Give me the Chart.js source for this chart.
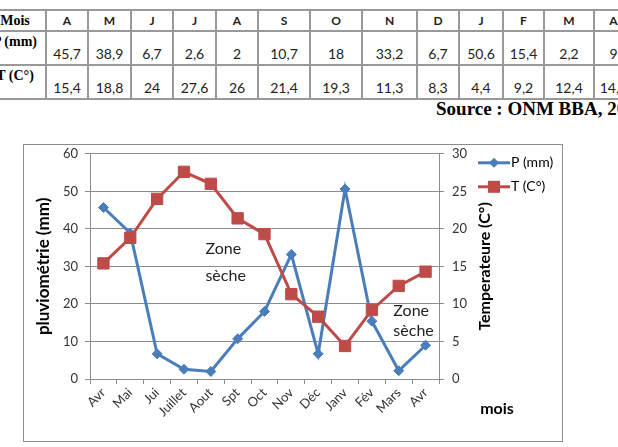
<!DOCTYPE html>
<html>
<head>
<meta charset="utf-8">
<script src="https://cdn.jsdelivr.net/npm/chart.js@4.4.0/dist/chart.umd.min.js"></script>
<style>
  html, body { margin: 0; padding: 0; background: #fff; }
  body { width: 618px; height: 447px; overflow: hidden; position: relative; font-family: Lato, 'Open Sans', sans-serif; }
  #tbl { position: absolute; left: -17px; top: 9px; border-collapse: collapse; table-layout: fixed; width: 649px; }
  #tbl td { border: 2px solid #999; padding: 0; text-align: center; color: #222; font-size: 14px; line-height: 16px; }
  #tbl tr.head { height: 21px; }
  #tbl tr.val { height: 34px; }
  #tbl tr.head td { vertical-align: bottom; font-weight: bold; font-size: 12px; padding-bottom: 1px; }
  #tbl tr.val td { vertical-align: bottom; padding-bottom: 2px; }
  #tbl tr td.lab { font-family: 'Liberation Serif', serif; font-weight: bold; font-size: 14px; color: #000; vertical-align: top; padding-top: 2px; padding-bottom: 0; }
  #tbl tr.head td.lab { vertical-align: middle; padding: 0; }
  #source { position: absolute; left: 436px; top: 98px; white-space: nowrap; font-family: 'Liberation Serif', serif; font-weight: bold; font-size: 19px; color: #000; }
  #box { position: absolute; left: 23px; top: 144px; width: 538px; height: 296px; border: 1px solid #8c8c8c; }
  #box canvas { position: absolute; left: 0; top: -7px; }
</style>
</head>
<body>
<table id="tbl"></table>
<div id="source">Source : ONM BBA, 2017</div>
<div id="box"><canvas id="climChart" width="538" height="304"></canvas></div>
<script>
// months on the chart axis and short ones for the table
const months = ['Avr', 'Mai', 'Jui', 'Juillet', 'Aout', 'Spt', 'Oct', 'Nov', 'Déc', 'Janv', 'Fév', 'Mars', 'Avr'];
const tableMonths = ['A', 'M', 'J', 'J', 'A', 'S', 'O', 'N', 'D', 'J', 'F', 'M', 'A'];
const precip = [45.7, 38.9, 6.7, 2.6, 2, 10.7, 18, 33.2, 6.7, 50.6, 15.4, 2.2, 9];
const temp = [15.4, 18.8, 24, 27.6, 26, 21.4, 19.3, 11.3, 8.3, 4.4, 9.2, 12.4, 14.3];
const precipTicks = [0, 10, 20, 30, 40, 50, 60];
const tempTicks = [0, 5, 10, 15, 20, 25, 30];

const colWidths = [62, 42, 43, 42, 43, 42, 52, 52, 55, 42, 44, 41, 50, 39];

// build the data table
function fmt(v) { return String(v).replace('.', ','); }
const tbl = document.getElementById('tbl');
const cg = document.createElement('colgroup');
colWidths.forEach(function (w) {
    const c = document.createElement('col');
    c.style.width = w + 'px';
    cg.appendChild(c);
});
tbl.appendChild(cg);
function addRow(cls, label, cells) {
    const tr = document.createElement('tr');
    tr.className = cls;
    const th = document.createElement('td');
    th.className = 'lab';
    th.textContent = label;
    tr.appendChild(th);
    cells.forEach(function (c) {
        const td = document.createElement('td');
        td.textContent = c;
        tr.appendChild(td);
    });
    tbl.appendChild(tr);
}
addRow('head', 'Mois', tableMonths);
addRow('val', 'P (mm)', precip.map(fmt));
addRow('val', 'T (C°)', temp.map(fmt));

const blue = '#4A7EBB';
const red = '#BE4B48';
const gridCol = '#8c8c8c';
const fontFam = 'Lato, "Open Sans", sans-serif';

// extra texts: right title, x title, legend, "Zone sèche" notes
const overlay = {
    id: 'overlay',
    afterDraw: function (chart) {
        const ctx = chart.ctx;
        const x = chart.scales.x, y = chart.scales.y;
        const area = chart.chartArea;
        ctx.save();
        ctx.fillStyle = '#000';
        ctx.textBaseline = 'middle';

        // right axis title, reading upwards like the left one
        ctx.save();
        ctx.translate(area.right + 46, (area.top + area.bottom) / 2);
        ctx.rotate(-Math.PI / 2);
        ctx.font = 'bold 16px ' + fontFam;
        ctx.textAlign = 'center';
        ctx.fillText('Temperateure (C°)', 0, 0);
        ctx.restore();

        // x title
        ctx.font = 'bold 16px ' + fontFam;
        ctx.textAlign = 'center';
        ctx.fillText('mois', area.right + 58, area.bottom + 30);

        // legend
        const items = [
            { text: 'P (mm)', color: blue, shape: 'diamond' },
            { text: 'T (C°)', color: red, shape: 'square' }
        ];
        items.forEach(function (it, i) {
            const ly = area.top + 9 + i * 24;
            const lx = area.right + 39;
            ctx.strokeStyle = it.color;
            ctx.fillStyle = it.color;
            ctx.lineWidth = 3;
            ctx.beginPath();
            ctx.moveTo(lx, ly);
            ctx.lineTo(lx + 32, ly);
            ctx.stroke();
            ctx.beginPath();
            if (it.shape === 'diamond') {
                ctx.moveTo(lx + 16 - 5, ly);
                ctx.lineTo(lx + 16, ly - 5);
                ctx.lineTo(lx + 16 + 5, ly);
                ctx.lineTo(lx + 16, ly + 5);
            } else {
                ctx.rect(lx + 16 - 6, ly - 6, 12, 12);
            }
            ctx.fill();
            ctx.fillStyle = '#000';
            ctx.font = '14px ' + fontFam;
            ctx.textAlign = 'left';
            ctx.fillText(it.text, lx + 33, ly);
        });

        // "Zone sèche" notes
        ctx.font = '16px ' + fontFam;
        ctx.fillStyle = '#222';
        ctx.textAlign = 'left';
        ctx.fillText('Zone', x.getPixelForValue(3.8), y.getPixelForValue(34.8));
        ctx.fillText('sèche', x.getPixelForValue(3.8), y.getPixelForValue(27.6));
        ctx.fillText('Zone', x.getPixelForValue(10.8), y.getPixelForValue(18.2));
        ctx.fillText('sèche', x.getPixelForValue(10.8), y.getPixelForValue(12.9));
        ctx.restore();
    }
};

const ctx = document.getElementById('climChart').getContext('2d');
new Chart(ctx, {
    type: 'line',
    data: {
        labels: months,
        datasets: [
            {
                label: 'P (mm)',
                data: precip,
                yAxisID: 'y',
                borderColor: blue,
                backgroundColor: blue,
                borderWidth: 3,
                pointStyle: 'rectRot',
                pointRadius: 5,
                pointBorderWidth: 1,
                order: 1
            },
            {
                label: 'T (C°)',
                data: temp,
                yAxisID: 'y1',
                borderColor: red,
                backgroundColor: red,
                borderWidth: 3,
                pointStyle: 'rect',
                pointRadius: 8,
                pointBorderWidth: 1,
                order: 0
            }
        ]
    },
    options: {
        responsive: false,
        animation: false,
        layout: { padding: { top: 9, right: 78, bottom: 0, left: 0 } },
        plugins: { legend: { display: false }, tooltip: { enabled: false } },
        scales: {
            x: {
                offset: true,
                grid: { offset: true, drawOnChartArea: false, tickLength: 5, color: gridCol },
                border: { color: gridCol },
                ticks: { minRotation: 45, maxRotation: 45, color: '#333', padding: 1, font: { family: fontFam, size: 13 } },
                afterFit: function (s) { s.height = 63; }
            },
            y: {
                position: 'left',
                min: precipTicks[0],
                max: precipTicks[precipTicks.length - 1],
                grid: { color: gridCol, tickLength: 5 },
                border: { color: gridCol },
                ticks: { stepSize: precipTicks[1] - precipTicks[0], padding: 7, color: '#333', font: { family: fontFam, size: 13 } },
                title: { display: true, text: 'pluviométrie (mm)', color: '#000', padding: { top: 9 }, font: { family: fontFam, size: 17, weight: 'bold' } },
                afterFit: function (s) { s.width = 66; }
            },
            y1: {
                position: 'right',
                min: tempTicks[0],
                max: tempTicks[tempTicks.length - 1],
                grid: { drawOnChartArea: false, color: gridCol, tickLength: 5 },
                border: { color: gridCol },
                ticks: { stepSize: tempTicks[1] - tempTicks[0], padding: 8, color: '#333', font: { family: fontFam, size: 13 } },
                afterFit: function (s) { s.width = 45; }
            }
        }
    },
    plugins: [overlay]
});
</script>
</body>
</html>
